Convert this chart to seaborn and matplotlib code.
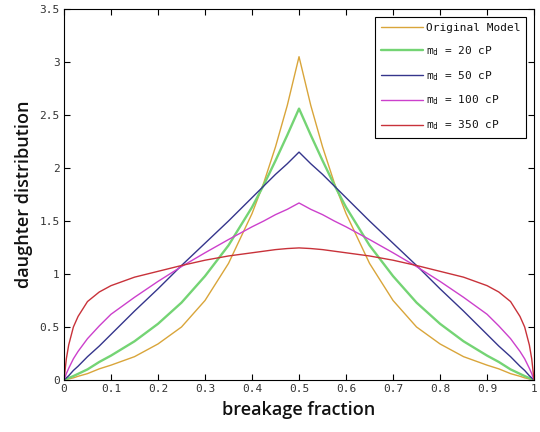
import matplotlib
matplotlib.use("Agg")
import matplotlib.pyplot as plt
import seaborn as sns
import pandas as pd

# breakage fraction sample positions
x = [0, 0.005, 0.01, 0.02, 0.03, 0.05, 0.075, 0.1, 0.15, 0.2, 0.25, 0.3, 0.35,
     0.4, 0.425, 0.45, 0.475, 0.5, 0.525, 0.55, 0.575, 0.6, 0.65, 0.7, 0.75,
     0.8, 0.85, 0.9, 0.925, 0.95, 0.97, 0.98, 0.99, 0.995, 1]

original = [0, 0.005, 0.01, 0.02, 0.035, 0.06, 0.105, 0.14, 0.22, 0.34, 0.5, 0.75, 1.1,
            1.57, 1.86, 2.2, 2.59, 3.05, 2.59, 2.2, 1.86, 1.57, 1.1, 0.75, 0.5,
            0.34, 0.22, 0.14, 0.105, 0.06, 0.035, 0.02, 0.01, 0.005, 0]

md20 = [0, 0.01, 0.018, 0.037, 0.058, 0.1, 0.17, 0.23, 0.365, 0.53, 0.73, 0.98, 1.27,
        1.63, 1.84, 2.07, 2.31, 2.56, 2.31, 2.07, 1.84, 1.63, 1.27, 0.98, 0.73,
        0.53, 0.365, 0.23, 0.17, 0.1, 0.058, 0.037, 0.018, 0.01, 0]

md50 = [0, 0.02, 0.04, 0.09, 0.13, 0.22, 0.32, 0.43, 0.65, 0.86, 1.08, 1.29, 1.5,
        1.72, 1.83, 1.94, 2.04, 2.15, 2.04, 1.94, 1.83, 1.72, 1.5, 1.29, 1.08,
        0.86, 0.65, 0.43, 0.32, 0.22, 0.13, 0.09, 0.04, 0.02, 0]

md100 = [0, 0.06, 0.11, 0.2, 0.27, 0.39, 0.51, 0.62, 0.78, 0.93, 1.07, 1.2, 1.325,
         1.445, 1.5, 1.56, 1.61, 1.67, 1.61, 1.56, 1.5, 1.445, 1.325, 1.2, 1.07,
         0.93, 0.78, 0.62, 0.51, 0.39, 0.27, 0.2, 0.11, 0.06, 0]

md350 = [0, 0.2, 0.33, 0.5, 0.6, 0.74, 0.83, 0.89, 0.97, 1.025, 1.08, 1.13, 1.17,
         1.2, 1.215, 1.23, 1.24, 1.246, 1.24, 1.23, 1.215, 1.2, 1.17, 1.13, 1.08,
         1.025, 0.97, 0.89, 0.83, 0.74, 0.6, 0.5, 0.33, 0.2, 0]

labels = ["Original Model", r"m$_\mathtt{d}$ = 20 cP", r"m$_\mathtt{d}$ = 50 cP",
          r"m$_\mathtt{d}$ = 100 cP", r"m$_\mathtt{d}$ = 350 cP"]
series = [original, md20, md50, md100, md350]
colors = ["#d9a53a", "#74d474", "#35358c", "#cc40cc", "#c8323a"]
widths = [1.0, 1.7, 1.0, 1.0, 1.0]

xticks = [0, 0.1, 0.2, 0.3, 0.4, 0.5, 0.6, 0.7, 0.8, 0.9, 1]
xticklabels = ["0", "0.1", "0.2", "0.3", "0.4", "0.5", "0.6", "0.7", "0.8", "0.9", "1"]
yticks = [0, 0.5, 1, 1.5, 2, 2.5, 3, 3.5]
yticklabels = ["0", "0.5", "1", "1.5", "2", "2.5", "3", "3.5"]

sns.set_style("white")
plt.rcParams["font.family"] = ["DejaVu Sans"]
plt.rcParams["mathtext.fontset"] = "dejavusans"

fig = plt.figure(figsize=(5.4, 4.32), dpi=100)
ax = fig.add_axes([0.1185, 0.1204, 0.8705, 0.8588])

for vals, lab, col, lw in zip(series, labels, colors, widths):
    df = pd.DataFrame({"x": x, "y": vals})
    sns.lineplot(data=df, x="x", y="y", ax=ax, color=col, linewidth=lw,
                 label=lab, sort=False)

ax.set_xlim(0, 1)
ax.set_ylim(0, 3.5)
ax.set_xticks(xticks)
ax.set_xticklabels(xticklabels, family="DejaVu Sans Mono", fontsize=8, color="#333333")
ax.set_yticks(yticks)
ax.set_yticklabels(yticklabels, family="DejaVu Sans Mono", fontsize=8, color="#333333")
ax.tick_params(direction="in", length=4, width=0.8, top=True, right=True,
               bottom=True, left=True, pad=3, color="black")
for s in ax.spines.values():
    s.set_color("black")
    s.set_linewidth(0.8)

ax.set_xlabel("breakage fraction", fontsize=13, family="Open Sans",
              fontweight=600, labelpad=5, color="#111111")
ax.set_ylabel("daughter distribution", fontsize=13, family="Open Sans",
              fontweight=600, labelpad=5, color="#111111")

leg = ax.legend(loc="upper right", prop={"family": "DejaVu Sans Mono", "size": 8},
                handlelength=3.8, labelspacing=1.0, handletextpad=0.3,
                borderpad=0.5, fancybox=False, framealpha=1,
                bbox_to_anchor=(0.995, 0.993))
leg.get_frame().set_edgecolor("black")
leg.get_frame().set_linewidth(0.8)
for t in leg.get_texts():
    t.set_color("#111111")

fig.savefig("out.png", dpi=100)
